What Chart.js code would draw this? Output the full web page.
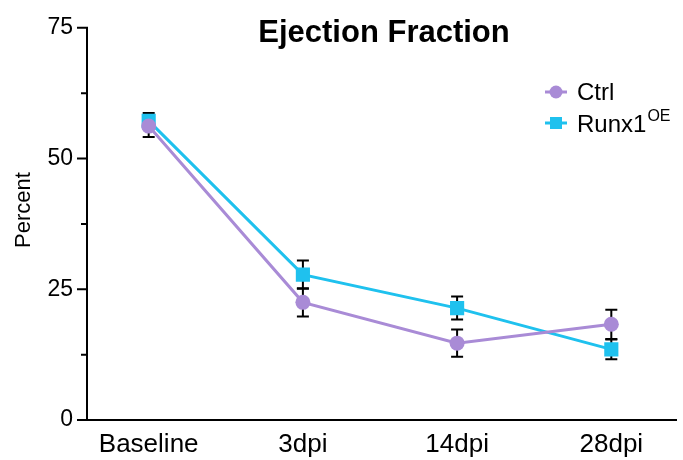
<!DOCTYPE html>
<html>
<head>
<meta charset="utf-8">
<script src="https://cdn.jsdelivr.net/npm/chart.js@4.4.1/dist/chart.umd.min.js"></script>
<style>
  html, body { margin: 0; padding: 0; background: #fff; }
  #wrap { width: 683px; height: 460px; position: relative; }
</style>
</head>
<body>
<div id="wrap"><canvas id="efChart"></canvas></div>
<script>
// data
const timepoints = ["Baseline", "3dpi", "14dpi", "28dpi"];
const ctrlMean = [56.2, 22.5, 14.7, 18.3];
const ctrlErr = [2.1, 2.7, 2.6, 2.8];
const runxMean = [57.2, 27.8, 21.4, 13.5];
const runxErr = [1.5, 2.7, 2.2, 1.9];
const yTicks = [0, 25, 50, 75];
const yMinorTicks = [12.5, 37.5, 62.5];

const CTRL_COLOR = "#a98bd6";
const RUNX_COLOR = "#1fc1ee";
const FONT = "'Liberation Sans', Arial, sans-serif";

function toPoints(vals) {
  return vals.map((v, i) => ({ x: i, y: v }));
}

// error bars (mean +/- SEM) drawn with the chart scales
const errorBars = {
  id: "errorBars",
  beforeDatasetsDraw(chart) {
    const ctx = chart.ctx;
    const xs = chart.scales.x, ys = chart.scales.y;
    const sets = [[ctrlMean, ctrlErr], [runxMean, runxErr]];
    ctx.save();
    ctx.strokeStyle = "#000";
    ctx.lineWidth = 2;
    sets.forEach(([m, e]) => {
      m.forEach((v, i) => {
        const px = xs.getPixelForValue(i);
        const top = ys.getPixelForValue(v + e[i]);
        const bot = ys.getPixelForValue(v - e[i]);
        ctx.beginPath();
        ctx.moveTo(px, top); ctx.lineTo(px, bot);
        ctx.moveTo(px - 6, top); ctx.lineTo(px + 6, top);
        ctx.moveTo(px - 6, bot); ctx.lineTo(px + 6, bot);
        ctx.stroke();
      });
    });
    ctx.restore();
  }
};

// axis lines, minor ticks, title, axis title and legend
const decorations = {
  id: "decorations",
  afterDraw(chart) {
    const ctx = chart.ctx;
    const ys = chart.scales.y;
    const area = chart.chartArea;
    ctx.save();
    ctx.strokeStyle = "#000";
    ctx.lineWidth = 2;
    ctx.beginPath();
    ctx.moveTo(area.left, ys.getPixelForValue(75) - 1);
    ctx.lineTo(area.left, area.bottom);
    ctx.lineTo(area.right + 4, area.bottom);
    yTicks.forEach(t => {
      const py = ys.getPixelForValue(t);
      ctx.moveTo(area.left - 10, py); ctx.lineTo(area.left, py);
    });
    yMinorTicks.forEach(t => {
      const py = ys.getPixelForValue(t);
      ctx.moveTo(area.left - 6, py); ctx.lineTo(area.left, py);
    });
    ctx.stroke();

    // title
    ctx.fillStyle = "#000";
    ctx.font = "bold 31px " + FONT;
    ctx.textAlign = "center";
    ctx.textBaseline = "middle";
    ctx.fillText("Ejection Fraction", 384, 33);

    // y axis title
    ctx.save();
    ctx.translate(24, 210);
    ctx.rotate(-Math.PI / 2);
    ctx.font = "22px " + FONT;
    ctx.fillText("Percent", 0, 0);
    ctx.restore();

    // legend
    const rows = [
      { color: CTRL_COLOR, shape: "circle", y: 92 },
      { color: RUNX_COLOR, shape: "square", y: 123 }
    ];
    rows.forEach(r => {
      ctx.strokeStyle = r.color;
      ctx.fillStyle = r.color;
      ctx.lineWidth = 3;
      ctx.beginPath();
      ctx.moveTo(545, r.y); ctx.lineTo(567, r.y);
      ctx.stroke();
      ctx.beginPath();
      if (r.shape === "circle") ctx.arc(556, r.y, 6.5, 0, Math.PI * 2);
      else ctx.rect(550, r.y - 6, 12, 12);
      ctx.fill();
    });
    ctx.fillStyle = "#000";
    ctx.textAlign = "left";
    ctx.textBaseline = "middle";
    ctx.font = "24px " + FONT;
    ctx.fillText("Ctrl", 577, 93);
    ctx.fillText("Runx1", 577, 125);
    const w = ctx.measureText("Runx1").width;
    ctx.font = "16px " + FONT;
    ctx.fillText("OE", 577 + w + 1, 117);
    ctx.restore();
  }
};

new Chart(document.getElementById("efChart"), {
  type: "line",
  data: {
    datasets: [
      {
        label: "Ctrl",
        data: toPoints(ctrlMean),
        borderColor: CTRL_COLOR,
        backgroundColor: CTRL_COLOR,
        borderWidth: 3,
        pointStyle: "circle",
        pointRadius: 7.5,
        pointBorderWidth: 0
      },
      {
        label: "Runx1 OE",
        data: toPoints(runxMean),
        borderColor: RUNX_COLOR,
        backgroundColor: RUNX_COLOR,
        borderWidth: 3,
        pointStyle: "rect",
        pointRadius: 10,
        pointBorderWidth: 0
      }
    ]
  },
  options: {
    responsive: true,
    maintainAspectRatio: false,
    animation: false,
    layout: { padding: { top: 24, right: 4, left: 0, bottom: 0 } },
    plugins: {
      legend: { display: false },
      title: { display: false },
      tooltip: { enabled: false }
    },
    scales: {
      x: {
        type: "linear",
        min: -0.4,
        max: 3.4,
        afterBuildTicks: (s) => { s.ticks = timepoints.map((_, i) => ({ value: i })); },
        afterFit: (s) => { s.height = 40; },
        grid: { display: false, drawTicks: false },
        border: { display: false },
        ticks: {
          color: "#000",
          padding: 9,
          font: { family: FONT, size: 26 },
          maxRotation: 0,
          autoSkip: false,
          callback: (v) => timepoints[v]
        }
      },
      y: {
        min: 0,
        max: 75,
        afterBuildTicks: (s) => { s.ticks = yTicks.map(v => ({ value: v })); },
        afterFit: (s) => { s.width = 87; },
        grid: { display: false, drawTicks: false },
        border: { display: false },
        ticks: {
          color: "#000",
          padding: 14,
          font: { family: FONT, size: 23 }
        }
      }
    }
  },
  plugins: [errorBars, decorations]
});
</script>
</body>
</html>
